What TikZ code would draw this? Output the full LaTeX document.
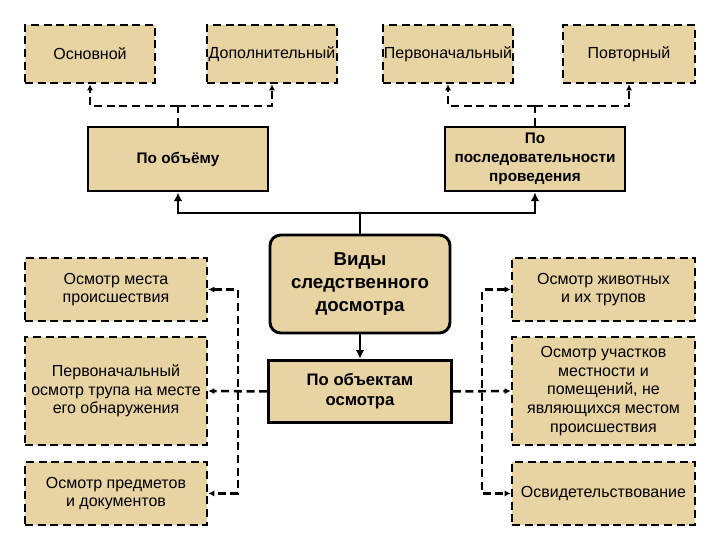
\documentclass[tikz,border=0pt]{standalone}
\usepackage{fontspec}
\setmainfont{Liberation Sans}
\usetikzlibrary{arrows.meta}
\definecolor{parch}{RGB}{232,211,163}
\tikzset{
  box/.style={draw=black, fill=parch, align=center, inner sep=0pt, font=\fontsize{12}{14}\selectfont},
  dbox/.style={box, line width=1.9pt, dash pattern=on 6pt off 3.5pt},
  sbox/.style={box, line width=2.2pt, font=\bfseries\fontsize{11.5}{14.3}\selectfont},
  dline/.style={line width=1.9pt, dash pattern=on 6pt off 3.5pt},
  sline/.style={line width=2.2pt},
  sarr/.style={-{Latex[length=6.5pt,width=6.5pt]}},
  darr/.style={-{Latex[length=4.5pt,width=4.5pt]}},
  dd/.style={{Latex[length=4.5pt,width=4.5pt]}-{Latex[length=4.5pt,width=4.5pt]}}
}
\begin{document}
\begin{tikzpicture}[x=1pt,y=-1pt]
\useasboundingbox (0,0) rectangle (540,405);
% top row
\node[dbox, minimum width=97.5pt, minimum height=43.5pt] (osn) at (67.5,40.5) {Основной};
\node[dbox, minimum width=97.5pt, minimum height=43.5pt] (dop) at (204,40.5) {Дополнительный};
\node[dbox, minimum width=97.5pt, minimum height=43.5pt] (perv) at (336,40.5) {Первоначальный};
\node[dbox, minimum width=99pt, minimum height=43.5pt] (povt) at (471.75,40.5) {Повторный};
% second row
\node[sbox, minimum width=135pt, minimum height=48pt] (obyom) at (133.5,119.25) {По объёму};
\node[sbox, minimum width=135pt, minimum height=48pt] (posl) at (401.25,119.25) {По\\последовательности\\проведения};
% centre
\node[sbox, rounded corners=8pt, minimum width=135pt, minimum height=73.5pt, font=\bfseries\fontsize{14}{17.6}\selectfont] (main) at (270,213) {Виды\\следственного\\досмотра};
\node[sbox, minimum width=137pt, minimum height=47pt, font=\bfseries\fontsize{12.5}{15}\selectfont] (obj) at (270,293.6) {По объектам\\осмотра};
% left column
\node[dbox, minimum width=136.5pt, minimum height=47.25pt] (l1) at (87,217.1) {Осмотр места\\происшествия};
\node[dbox, minimum width=136.5pt, minimum height=81pt] (l2) at (87,293.25) {Первоначальный\\осмотр трупа на месте\\его обнаружения};
\node[dbox, minimum width=136.5pt, minimum height=47.25pt] (l3) at (87,370.1) {Осмотр предметов\\и документов};
% right column
\node[dbox, minimum width=137.25pt, minimum height=47.25pt] (r1) at (452.6,217.1) {Осмотр животных\\и их трупов};
\node[dbox, minimum width=137.25pt, minimum height=81pt] (r2) at (452.6,293.25) {Осмотр участков\\местности и\\помещений, не\\являющихся местом\\происшествия};
\node[dbox, minimum width=137.25pt, minimum height=47.25pt] (r3) at (452.6,370.1) {Освидетельствование};
% junctions
\coordinate (j1) at (133.5,79.5);
\coordinate (j2) at (401.25,79.5);
\coordinate (j3) at (270,159.75);
\coordinate (lv) at (178.5,293.25);
\coordinate (rv) at (361.5,293.25);
% dashed top connectors
\draw[dline] (obyom.north) -- (j1);
\draw[dline,darr] (j1) -| (osn.south);
\draw[dline,darr] (j1) -| (dop.south);
\draw[dline] (posl.north) -- (j2);
\draw[dline,darr] (j2) -| (perv.south);
\draw[dline,darr] (j2) -| (povt.south);
% solid connectors
\draw[sline] (main.north) -- (j3);
\draw[sline,sarr] (j3) -| (obyom.south);
\draw[sline,sarr] (j3) -| (posl.south);
\draw[sline,sarr] (main.south) -- (obj.north);
% side connectors
\draw[dline,dd] (l1.east) -| (lv) |- (l3.east);
\draw[dline,darr] (obj.west) -- (l2.east);
\draw[dline,dd] (r1.west) -| (rv) |- (r3.west);
\draw[dline,darr] (obj.east) -- (r2.west);
\end{tikzpicture}
\end{document}
